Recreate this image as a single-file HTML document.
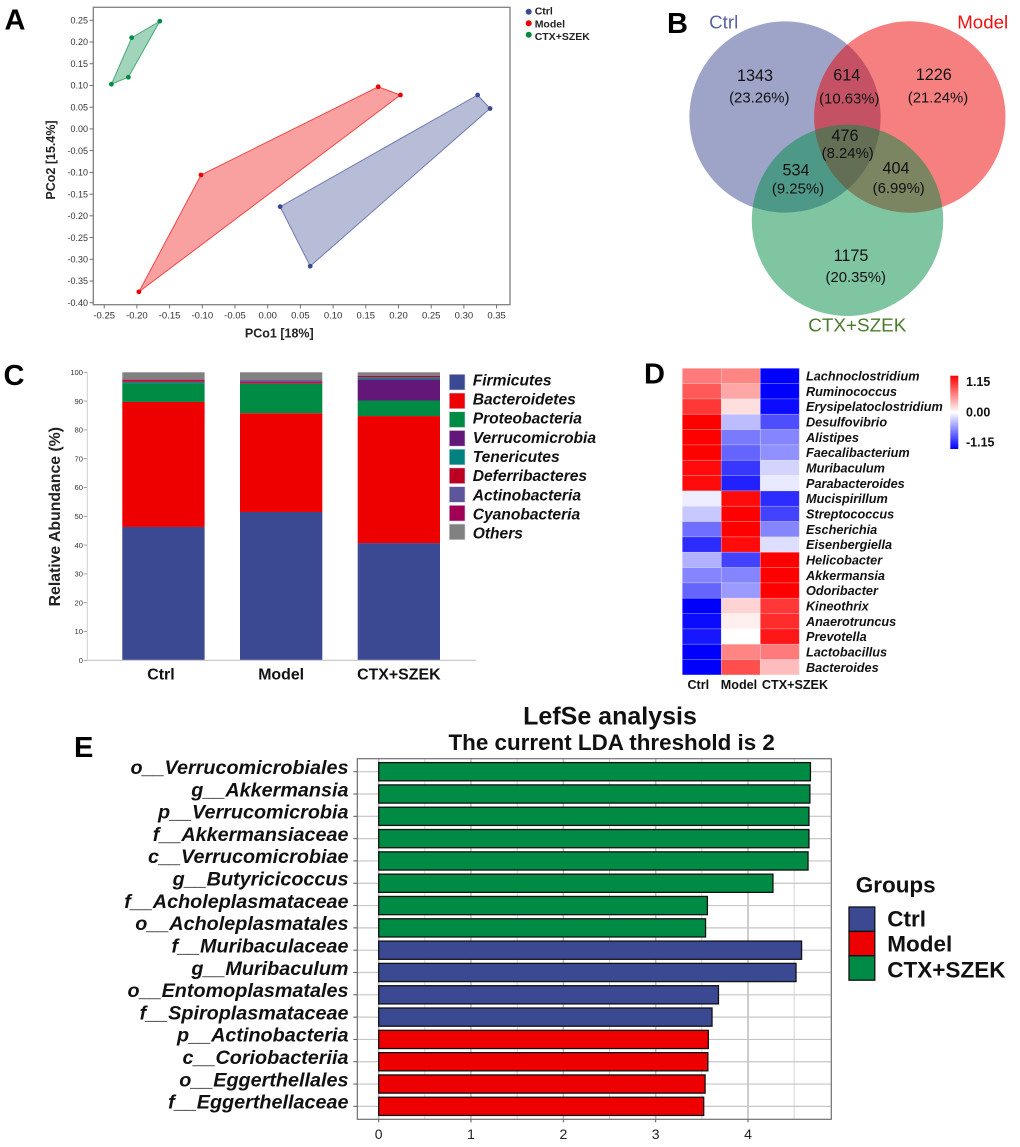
<!DOCTYPE html>
<html lang="en">
<head>
<meta charset="utf-8">
<title>Microbiome composition figure</title>
<style>
html,body{margin:0;padding:0;background:#fff;}
#figure{display:block;width:1020px;height:1147px;font-family:"Liberation Sans",Arial,sans-serif;}
.panel-letter{font-size:29px;font-weight:bold;fill:#000;}
.v-num{font-size:16.2px;fill:#111;text-anchor:middle;}
.v-pct{font-size:14.9px;fill:#111;text-anchor:middle;}
</style>
</head>
<body>
<svg id="figure" xmlns="http://www.w3.org/2000/svg" width="1020" height="1147" viewBox="0 0 1020 1147">
  <defs>
    <linearGradient id="cbar" x1="0" y1="0" x2="0" y2="1">
      <stop offset="0" stop-color="#ff0000"/>
      <stop offset="0.5" stop-color="#ffffff"/>
      <stop offset="1" stop-color="#0000ff"/>
    </linearGradient>
  </defs>
  <rect width="1020" height="1147" fill="#fff"/>

  <text class="panel-letter" x="4.5" y="29.3">A</text>
  <text class="panel-letter" x="667" y="33">B</text>
  <text class="panel-letter" x="3.5" y="385">C</text>
  <text class="panel-letter" x="644" y="383.5">D</text>
  <text class="panel-letter" x="74" y="757">E</text>

  <g id="panel-a"></g>

  <g id="panel-b">
    <circle cx="785" cy="117" r="95.6" fill="#3b4992" fill-opacity="0.5"/>
    <circle cx="909.8" cy="117" r="95.7" fill="#ee0000" fill-opacity="0.5"/>
    <circle cx="847.5" cy="220.3" r="95.7" fill="#008b45" fill-opacity="0.5"/>
    <text x="723.7" y="28.5" font-size="18.7" text-anchor="middle" fill="#5b62a3">Ctrl</text>
    <text x="982.7" y="28.5" font-size="18.7" text-anchor="middle" fill="#f01010">Model</text>
    <text x="857.3" y="331.5" font-size="18.9" text-anchor="middle" fill="#4a7a2c">CTX+SZEK</text>
    <text class="v-num" x="755" y="81">1343</text>
    <text class="v-pct" x="759.3" y="102.5">(23.26%)</text>
    <text class="v-num" x="846.7" y="80.5">614</text>
    <text class="v-pct" x="849.3" y="103.5">(10.63%)</text>
    <text class="v-num" x="933.7" y="79.8">1226</text>
    <text class="v-pct" x="938" y="102.5">(21.24%)</text>
    <text class="v-num" x="845" y="140.8">476</text>
    <text class="v-pct" x="847.7" y="158">(8.24%)</text>
    <text class="v-num" x="796" y="175.5">534</text>
    <text class="v-pct" x="798" y="193.5">(9.25%)</text>
    <text class="v-num" x="896" y="173.5">404</text>
    <text class="v-pct" x="898.7" y="193">(6.99%)</text>
    <text class="v-num" x="851" y="260.8">1175</text>
    <text class="v-pct" x="855.7" y="282">(20.35%)</text>
  </g>

  <g id="panel-c"></g>
  <g id="panel-d"></g>
  <g id="panel-e"></g>
</svg>

<script>
/* ---------- Panel A data ---------- */
var pcoaGroups = ['Ctrl', 'Model', 'CTX+SZEK'];
var pcoaColors = ['#3b4992', '#ee0000', '#008b45'];
var ctrlPco1 = [0.321, 0.340, 0.065, 0.019];
var ctrlPco2 = [0.078, 0.047, -0.316, -0.179];
var modelPco1 = [0.169, 0.203, -0.197, -0.102];
var modelPco2 = [0.097, 0.078, -0.375, -0.106];
var ctxPco1 = [-0.165, -0.213, -0.239, -0.208];
var ctxPco2 = [0.248, 0.119, 0.103, 0.210];
var pcoaXTicks = [-0.25, -0.20, -0.15, -0.10, -0.05, 0.00, 0.05, 0.10, 0.15, 0.20, 0.25, 0.30, 0.35];
var pcoaYTicks = [0.25, 0.20, 0.15, 0.10, 0.05, 0.00, -0.05, -0.10, -0.15, -0.20, -0.25, -0.30, -0.35, -0.40];

/* ---------- Panel C data ---------- */
var abundanceSamples = ['Ctrl', 'Model', 'CTX+SZEK'];
var phylumNames = ['Firmicutes', 'Bacteroidetes', 'Proteobacteria', 'Verrucomicrobia', 'Tenericutes', 'Deferribacteres', 'Actinobacteria', 'Cyanobacteria', 'Others'];
var phylumColors = ['#3b4992', '#ee0000', '#008b45', '#631879', '#008280', '#bb0021', '#5f559b', '#a20056', '#808180'];
var ctrlAbundance = [46.3, 43.4, 6.5, 0.1, 0.4, 0.6, 0.1, 0.1, 2.5];
var modelAbundance = [51.5, 34.3, 10.2, 0.05, 0.05, 0.5, 0.6, 0.1, 2.7];
var ctxAbundance = [40.7, 44.1, 5.4, 7.4, 0.7, 0.5, 0.1, 0.1, 1.0];
var abundanceTicks = [0, 10, 20, 30, 40, 50, 60, 70, 80, 90, 100];

/* ---------- Panel D data ---------- */
var generaNames = ['Lachnoclostridium', 'Ruminococcus', 'Erysipelatoclostridium', 'Desulfovibrio', 'Alistipes', 'Faecalibacterium', 'Muribaculum', 'Parabacteroides', 'Mucispirillum', 'Streptococcus', 'Escherichia', 'Eisenbergiella', 'Helicobacter', 'Akkermansia', 'Odoribacter', 'Kineothrix', 'Anaerotruncus', 'Prevotella', 'Lactobacillus', 'Bacteroides'];
var heatColumns = ['Ctrl', 'Model', 'CTX+SZEK'];
var heatCtrl = [0.60, 0.75, 0.90, 1.15, 1.15, 1.15, 1.10, 1.10, -0.08, -0.25, -0.65, -0.95, -0.35, -0.55, -0.70, -1.15, -1.10, -1.05, -1.15, -1.15];
var heatModel = [0.55, 0.40, 0.15, -0.30, -0.60, -0.70, -0.90, -1.00, 1.10, 1.15, 1.15, 1.10, -0.85, -0.55, -0.45, 0.20, 0.07, 0.00, 0.55, 0.80];
var heatCtx = [-1.15, -1.15, -1.10, -0.80, -0.55, -0.50, -0.20, -0.10, -0.95, -0.85, -0.55, -0.15, 1.15, 1.15, 1.15, 0.90, 0.95, 1.05, 0.60, 0.30];
var heatScaleLabels = ['1.15', '0.00', '-1.15'];

/* ---------- Panel E data ---------- */
var ldaTaxa = ['o__Verrucomicrobiales', 'g__Akkermansia', 'p__Verrucomicrobia', 'f__Akkermansiaceae', 'c__Verrucomicrobiae', 'g__Butyricicoccus', 'f__Acholeplasmataceae', 'o__Acholeplasmatales', 'f__Muribaculaceae', 'g__Muribaculum', 'o__Entomoplasmatales', 'f__Spiroplasmataceae', 'p__Actinobacteria', 'c__Coriobacteriia', 'o__Eggerthellales', 'f__Eggerthellaceae'];
var ldaScores = [4.676, 4.67, 4.66, 4.66, 4.65, 4.27, 3.56, 3.54, 4.58, 4.52, 3.68, 3.61, 3.57, 3.565, 3.535, 3.52];
var ldaGroupIndex = [2, 2, 2, 2, 2, 2, 2, 2, 0, 0, 0, 0, 1, 1, 1, 1];
var ldaTicks = [0, 1, 2, 3, 4];
var ldaGroups = ['Ctrl', 'Model', 'CTX+SZEK'];
var ldaColors = ['#3b4992', '#ee0000', '#008b45'];

/* ---------- helper ---------- */
var NS = 'http://www.w3.org/2000/svg';
function mk(parent, tag, attrs, content) {
  var node = document.createElementNS(NS, tag);
  for (var k in attrs) { node.setAttribute(k, attrs[k]); }
  if (content !== undefined) { node.textContent = content; }
  parent.appendChild(node);
  return node;
}
var el;

/* ---------- Panel A ---------- */
(function () {
  var g = document.getElementById('panel-a');
  function xA(v) { return 267.7 + v * 654; }
  function yA(v) { return 20.3 + (0.25 - v) * 434.5; }
  el = mk(g, 'rect', { x: 93.3, y: 7.3, width: 416.7, height: 297.4, fill: '#fff', stroke: '#808080', 'stroke-width': 1.3 });
  
  
  pcoaXTicks.forEach(function (t) {
    el = mk(g, 'line', { x1: xA(t), x2: xA(t), y1: 304.7, y2: 308.5, stroke: '#666', 'stroke-width': 0.9 });
    
    
    el = mk(g, 'text', { x: xA(t), y: 318.3, 'font-size': 9.5, fill: '#333', 'text-anchor': 'middle' }, t.toFixed(2));
    
    
  });
  pcoaYTicks.forEach(function (t) {
    el = mk(g, 'line', { x1: 89.5, x2: 93.3, y1: yA(t), y2: yA(t), stroke: '#666', 'stroke-width': 0.9 });
    
    
    el = mk(g, 'text', { x: 88, y: yA(t) + 3.2, 'font-size': 9, fill: '#333', 'text-anchor': 'end' }, t.toFixed(2));
    
    
  });
  var xs = [ctrlPco1, modelPco1, ctxPco1];
  var ys = [ctrlPco2, modelPco2, ctxPco2];
  pcoaGroups.forEach(function (name, i) {
    var pts = xs[i].map(function (x, j) { return xA(x).toFixed(1) + ',' + yA(ys[i][j]).toFixed(1); }).join(' ');
    el = mk(g, 'polygon', { points: pts, fill: pcoaColors[i], 'fill-opacity': 0.37, stroke: pcoaColors[i], 'stroke-opacity': 0.65, 'stroke-width': 1 });
    
    
    xs[i].forEach(function (x, j) {
      el = mk(g, 'circle', { cx: xA(x), cy: yA(ys[i][j]), r: 2.4, fill: pcoaColors[i] });
      
      
    });
    el = mk(g, 'circle', { cx: 528.7, cy: 11.7 + i * 11.5, r: 3, fill: pcoaColors[i] });
    
    
    el = mk(g, 'text', { x: 534.7, y: 14.7 + i * 12.6, 'font-size': 10.5, 'font-weight': 'bold', fill: '#222' }, name);
    
    
  });
  el = mk(g, 'text', { x: 279.3, y: 337.7, 'font-size': 12.5, 'font-weight': 'bold', fill: '#222', 'text-anchor': 'middle' }, 'PCo1 [18%]');
  
  
  el = mk(g, 'text', { x: 0, y: 0, 'font-size': 12.5, 'font-weight': 'bold', fill: '#222', 'text-anchor': 'middle', transform: 'translate(55,160) rotate(-90)' }, 'PCo2 [15.4%]');
  
  
})();

/* ---------- Panel C ---------- */
(function () {
  var g = document.getElementById('panel-c');
  function yC(v) { return 660.3 - v * 2.88; }
  function xC(i) { return 122.3 + i * 117.7; }
  var barW = 82.3;
  var series = [ctrlAbundance, modelAbundance, ctxAbundance];
  abundanceTicks.forEach(function (t) {
    el = mk(g, 'line', { x1: 83.8, x2: 87.3, y1: yC(t), y2: yC(t), stroke: '#888', 'stroke-width': 0.8 });
    
    
    el = mk(g, 'text', { x: 83, y: yC(t) + 2.7, 'font-size': 7.6, fill: '#333', 'text-anchor': 'end' }, String(t));
    
    
  });
  el = mk(g, 'line', { x1: 87.3, x2: 87.3, y1: yC(100), y2: yC(0), stroke: '#cfcfcf', 'stroke-width': 1 });
  
  
  abundanceSamples.forEach(function (name, i) {
    var acc = 0;
    series[i].forEach(function (v, j) {
      el = mk(g, 'rect', { x: xC(i), y: yC(acc + v), width: barW, height: v * 2.88, fill: phylumColors[j] });
      
      
      acc += v;
    });
    el = mk(g, 'text', { x: xC(i) + barW / 2 - (i === 0 ? 2.5 : 0), y: 679.3, 'font-size': 15.9, 'font-weight': 'bold', fill: '#111', 'text-anchor': 'middle' }, name);
    
    
  });
  el = mk(g, 'line', { x1: 87.3, x2: 476, y1: 660.3, y2: 660.3, stroke: '#c4c4c4', 'stroke-width': 1.1 });
  
  
  el = mk(g, 'text', { x: 0, y: 0, 'font-size': 15.8, 'font-weight': 'bold', fill: '#222', 'text-anchor': 'middle', transform: 'translate(60,516.7) rotate(-90)' }, 'Relative Abundance (%)');
  
  
  phylumNames.forEach(function (name, i) {
    el = mk(g, 'rect', { x: 449.3, y: 374.3 + i * 18.72, width: 15.7, height: 15.7, fill: phylumColors[i], stroke: '#d6d8e6', 'stroke-width': 0.6 });
    
    
    el = mk(g, 'text', { x: 472.7, y: 385.3 + i * 19.17, 'font-size': 15.6, 'font-weight': 'bold', 'font-style': 'italic', fill: '#111' }, name);
    
    
  });
})();

/* ---------- Panel D ---------- */
(function () {
  var g = document.getElementById('panel-d');
  var cellW = 39, cellH = 15.33, left = 682.3, top = 368.3;
  function heatColor(v) {
    var t = Math.max(-1, Math.min(1, v / 1.15));
    var c = Math.round(255 * (1 - Math.abs(t)));
    return t >= 0 ? 'rgb(255,' + c + ',' + c + ')' : 'rgb(' + c + ',' + c + ',255)';
  }
  var cols = [heatCtrl, heatModel, heatCtx];
  generaNames.forEach(function (name, r) {
    cols.forEach(function (col, c) {
      el = mk(g, 'rect', { x: left + c * cellW, y: top + r * cellH, width: cellW, height: cellH, fill: heatColor(col[r]), stroke: '#fff', 'stroke-opacity': 0.3, 'stroke-width': 0.7 });
      
      
    });
    el = mk(g, 'text', { x: 806, y: top + (r + 0.5) * cellH + 4.6, 'font-size': 12.7, 'font-weight': 'bold', 'font-style': 'italic', fill: '#111' }, name);
    
    
  });
  var colCenters = [698.3, 739, 795];
  heatColumns.forEach(function (name, c) {
    el = mk(g, 'text', { x: colCenters[c], y: 689, 'font-size': 12.6, 'font-weight': 'bold', fill: '#111', 'text-anchor': 'middle' }, name);
    
    
  });
  el = mk(g, 'rect', { x: 950.3, y: 375.7, width: 8, height: 73.3, fill: 'url(#cbar)' });
  
  
  heatScaleLabels.forEach(function (label, i) {
    el = mk(g, 'text', { x: label.charAt(0) === '-' ? 966 : 966, y: 386 + i * 30.3, 'font-size': 12.5, 'font-weight': 'bold', fill: '#111' }, label);
    
    
  });
})();

/* ---------- Panel E ---------- */
(function () {
  var g = document.getElementById('panel-e');
  function xE(v) { return 378.7 + v * 92.33; }
  function yE(i) { return 771.7 + i * 22.31; }
  var fL = 357.3, fR = 831.3, fT = 758.7, fB = 1119.3;
  el = mk(g, 'text', { x: 610, y: 724.3, 'font-size': 25, 'font-weight': 'bold', fill: '#111', 'text-anchor': 'middle' }, 'LefSe analysis');
  
  
  el = mk(g, 'text', { x: 611.7, y: 750, 'font-size': 22.4, 'font-weight': 'bold', fill: '#111', 'text-anchor': 'middle' }, 'The current LDA threshold is 2');
  
  
  ldaTicks.forEach(function (t) {
    el = mk(g, 'line', { x1: xE(t), x2: xE(t), y1: fT, y2: fB, stroke: '#bdbdbd', 'stroke-width': 1.5 });
    
    
    el = mk(g, 'line', { x1: xE(t + 0.5), x2: xE(t + 0.5), y1: fT, y2: fB, stroke: '#d4d4d4', 'stroke-width': 1 });
    
    
    el = mk(g, 'line', { x1: xE(t), x2: xE(t), y1: fB, y2: fB + 3, stroke: '#555', 'stroke-width': 1 });
    
    
    el = mk(g, 'text', { x: xE(t), y: 1139, 'font-size': 14, fill: '#222', 'text-anchor': 'middle' }, String(t));
    
    
  });
  ldaTaxa.forEach(function (name, i) {
    el = mk(g, 'line', { x1: fL, x2: fR, y1: yE(i), y2: yE(i), stroke: '#c6c6c6', 'stroke-width': 1.2 });
    
    
    el = mk(g, 'line', { x1: 353.3, x2: fL, y1: yE(i), y2: yE(i), stroke: '#555', 'stroke-width': 1 });
    
    
    el = mk(g, 'rect', { x: xE(0), y: yE(i) - 9.1, width: xE(ldaScores[i]) - xE(0), height: 18.2, fill: ldaColors[ldaGroupIndex[i]], stroke: '#111', 'stroke-width': 1.3 });
    
    
    el = mk(g, 'text', { x: 348.5, y: yE(i) + 2.3, 'font-size': 19.8, 'font-weight': 'bold', 'font-style': 'italic', fill: '#111', 'text-anchor': 'end' }, name);
    
    
  });
  el = mk(g, 'rect', { x: fL, y: fT, width: fR - fL, height: fB - fT, fill: 'none', stroke: '#707070', 'stroke-width': 1.2 });
  
  
  el = mk(g, 'text', { x: 855.7, y: 892.7, 'font-size': 22.5, 'font-weight': 'bold', fill: '#111' }, 'Groups');
  
  
  var legendBase = [926.7, 951.7, 977.3];
  ldaGroups.forEach(function (name, i) {
    el = mk(g, 'rect', { x: 849, y: 907 + i * 24.4, width: 25.8, height: 24.4, fill: ldaColors[i], stroke: '#111', 'stroke-width': 1.3 });
    
    
    el = mk(g, 'text', { x: 887.3, y: legendBase[i], 'font-size': 22.5, 'font-weight': 'bold', fill: '#111' }, name);
    
    
  });
})();
</script>
</body>
</html>
